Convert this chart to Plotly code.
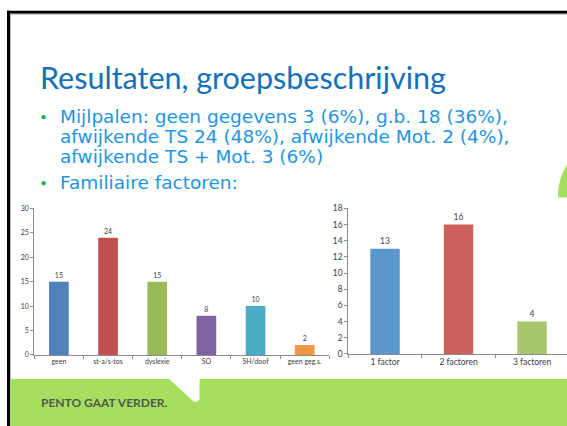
import plotly.graph_objects as go

W, H = 567, 426

# ---- data ----
title_text = "Resultaten, groepsbeschrijving"
bullet_lines = [
    "Mijlpalen: geen gegevens 3 (6%), g.b. 18 (36%),",
    "afwijkende TS 24 (48%), afwijkende Mot. 2 (4%),",
    "afwijkende TS + Mot. 3 (6%)",
]
bullet2 = "Familiaire factoren:"
footer_text = "PENTO GAAT VERDER."

cats1 = ["geen", "st-a/s-tos", "dyslexie", "SO", "SH/doof", "geen geg.s."]
vals1 = [15, 24, 15, 8, 10, 2]
colors1 = ["#4F81BD", "#C0504D", "#9BBB59", "#8064A2", "#4BACC6", "#F79646"]

cats2 = ["1 factor", "2 factoren", "3 factoren"]
vals2 = [13, 16, 4]
colors2 = ["#5B97CD", "#CD625C", "#A6C76B"]


def px(x):
    return x / W


def py(y):
    return 1 - y / H


FONT = "Lato"
BFONT = "DejaVu Sans"
TXT = "#404040"
AX = "#8C8C8C"

fig = go.Figure()
fig.add_trace(go.Bar(
    x=cats1, y=vals1, marker=dict(color=colors1, line=dict(width=0)), width=0.4,
    text=vals1, textposition="outside", textfont=dict(size=7, color=TXT, family=FONT),
    cliponaxis=False, xaxis="x", yaxis="y", showlegend=False))
fig.add_trace(go.Bar(
    x=cats2, y=vals2, marker=dict(color=colors2, line=dict(width=0)), width=0.4,
    text=vals2, textposition="outside", textfont=dict(size=8.5, color=TXT, family=FONT),
    cliponaxis=False, xaxis="x2", yaxis="y2", showlegend=False))

axis_common = dict(showgrid=False, zeroline=False, showline=True, linecolor=AX,
                   linewidth=1, ticks="outside", tickcolor=AX, ticklen=3)

fig.update_layout(
    width=W, height=H, margin=dict(l=0, r=0, t=0, b=0),
    paper_bgcolor="white", plot_bgcolor="rgba(0,0,0,0)",
    font=dict(family=FONT, color=TXT),
    xaxis=dict(domain=[px(34.3), px(329.3)], type="category", tickson="boundaries",
               range=[-0.5, 5.5], tickfont=dict(size=7, color=TXT), anchor="y", **axis_common),
    yaxis=dict(domain=[py(358.3), py(208.3)], range=[0, 30], dtick=5,
               tickfont=dict(size=7, color=TXT), anchor="x", **axis_common),
    xaxis2=dict(domain=[px(348.3), 1.0], type="category", tickson="boundaries",
                range=[-0.5, -0.5 + 218.7 / 73.5], tickfont=dict(size=8.5, color=TXT),
                anchor="y2", **axis_common),
    yaxis2=dict(domain=[py(357.3), py(208.3)], range=[0, 18], dtick=2,
                tickfont=dict(size=8.5, color=TXT), anchor="x2", **axis_common),
)

shapes = []
# slide border
shapes.append(dict(type="rect", xref="paper", yref="paper", x0=px(7), x1=px(W + 5),
                   y0=py(9), y1=py(6), fillcolor="black", line=dict(width=0), layer="below"))
shapes.append(dict(type="rect", xref="paper", yref="paper", x0=px(7), x1=px(10),
                   y0=py(H + 5), y1=py(6), fillcolor="black", line=dict(width=0), layer="below"))
shapes.append(dict(type="rect", xref="paper", yref="paper", x0=px(10), x1=px(11),
                   y0=py(H + 5), y1=py(9), fillcolor="#BBBBBB", line=dict(width=0), layer="below"))
shapes.append(dict(type="rect", xref="paper", yref="paper", x0=px(10), x1=px(W + 5),
                   y0=py(10), y1=py(9), fillcolor="#BBBBBB", line=dict(width=0), layer="below"))
# green circle at right edge
shapes.append(dict(type="circle", xref="paper", yref="paper", x0=px(558), x1=px(682),
                   y0=py(257.5), y1=py(133.5), fillcolor="#A4E05D", line=dict(width=0), layer="below"))
shapes.append(dict(type="rect", xref="paper", yref="paper", x0=px(520), x1=px(W + 5),
                   y0=py(383), y1=py(197), fillcolor="white", line=dict(width=0), layer="below"))
# green footer
shapes.append(dict(type="rect", xref="paper", yref="paper", x0=px(10), x1=px(W + 5),
                   y0=py(H + 5), y1=py(383), fillcolor="#A4E05D", line=dict(width=0), layer="below"))
# notch in footer
notch = (f"M {px(168)} {py(382)} L {px(192)} {py(404.5)} Q {px(196)} {py(408.5)} {px(199.5)} {py(404)} "
         f"L {px(199.5)} {py(382)} Z")
shapes.append(dict(type="path", xref="paper", yref="paper", path=notch,
                   fillcolor="white", line=dict(width=0), layer="below"))
fig.update_layout(shapes=shapes)

ann = []
ann.append(dict(text=title_text, x=px(38), y=py(74), xref="paper", yref="paper",
                xanchor="left", yanchor="middle", showarrow=False,
                font=dict(family=FONT, size=30.5, color="#1470B8")))
line_y = [114, 134.5, 155]
for t, yy in zip(bullet_lines, line_y):
    ann.append(dict(text=t, x=px(58), y=py(yy), xref="paper", yref="paper",
                    xanchor="left", yanchor="middle", showarrow=False,
                    font=dict(family=BFONT, size=18.5, color="#1E95E2")))
ann.append(dict(text=bullet2, x=px(58), y=py(182), xref="paper", yref="paper",
                xanchor="left", yanchor="middle", showarrow=False,
                font=dict(family=BFONT, size=18.5, color="#1E95E2")))
for yy in [114, 182]:
    ann.append(dict(text="•", x=px(38), y=py(yy), xref="paper", yref="paper",
                    xanchor="left", yanchor="middle", showarrow=False,
                    font=dict(family=FONT, size=12, color="#22AE4A")))
ann.append(dict(text="<b>" + footer_text + "</b>", x=px(39), y=py(407), xref="paper", yref="paper",
                xanchor="left", yanchor="middle", showarrow=False,
                font=dict(family=FONT, size=12, color="#555555")))
fig.update_layout(annotations=ann)

fig.write_html("out.html", config={"displayModeBar": False},
               post_script="document.body.style.margin='0';document.body.style.overflow='hidden';")
